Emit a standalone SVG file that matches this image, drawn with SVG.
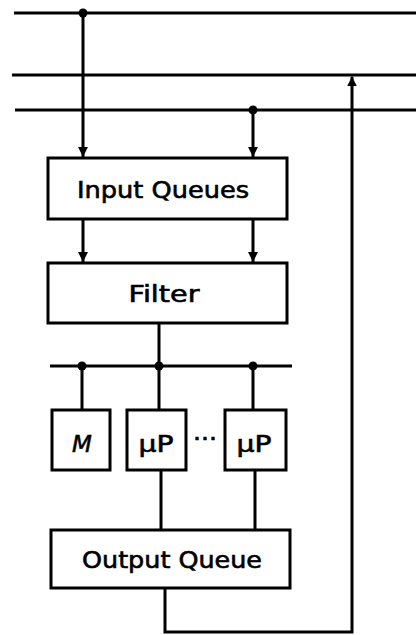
<svg xmlns="http://www.w3.org/2000/svg" width="416" height="635" viewBox="0 0 416 635">
<style>
.ln{stroke:#000;stroke-width:3;fill:none;stroke-linecap:butt}
.bx{stroke:#000;stroke-width:3;fill:#fff}
.t{font-family:"DejaVu Sans","Liberation Sans",sans-serif;font-size:23px;fill:#000;stroke:#000;stroke-width:0.6;text-anchor:middle}
.dot{fill:#000}
</style>
<defs>
<marker id="ah" viewBox="0 0 10 10" refX="10" refY="5" markerWidth="3.3" markerHeight="3.3" markerUnits="strokeWidth" orient="auto">
<path d="M0,0 L10,5 L0,10 z" fill="#000"/>
</marker>
</defs>
<g id="connectors">
<line class="ln" x1="14" y1="13" x2="416" y2="13"/>
<line class="ln" x1="12" y1="75" x2="416" y2="75"/>
<line class="ln" x1="15" y1="110" x2="416" y2="110"/>
<circle class="dot" cx="83" cy="13" r="4.5"/>
<circle class="dot" cx="253" cy="110" r="4.5"/>
<line class="ln" x1="83" y1="13" x2="83" y2="157" marker-end="url(#ah)"/>
<line class="ln" x1="253" y1="110" x2="253" y2="157" marker-end="url(#ah)"/>
<line class="ln" x1="83" y1="219" x2="83" y2="262" marker-end="url(#ah)"/>
<line class="ln" x1="253" y1="219" x2="253" y2="262" marker-end="url(#ah)"/>
<line class="ln" x1="159" y1="323" x2="159" y2="366"/>
<line class="ln" x1="50" y1="366" x2="292" y2="366"/>
<circle class="dot" cx="82" cy="366" r="4.5"/>
<circle class="dot" cx="159" cy="366" r="4.5"/>
<circle class="dot" cx="253" cy="366" r="4.5"/>
<line class="ln" x1="82" y1="366" x2="82" y2="410"/>
<line class="ln" x1="159" y1="366" x2="159" y2="410"/>
<line class="ln" x1="253" y1="366" x2="253" y2="410"/>
<line class="ln" x1="161" y1="470" x2="161" y2="530"/>
<line class="ln" x1="255" y1="470" x2="255" y2="530"/>
<polyline class="ln" points="165,588 165,632 352,632 352,76.5" marker-end="url(#ah)"/>
</g>
<g id="input-queues">
<rect class="bx" x="48" y="158" width="239" height="61"/>
<text class="t" x="163" y="198" textLength="172" lengthAdjust="spacingAndGlyphs">Input Queues</text>
</g>
<g id="filter">
<rect class="bx" x="48" y="263" width="239" height="60"/>
<text class="t" x="164" y="302" textLength="71" lengthAdjust="spacingAndGlyphs">Filter</text>
</g>
<g id="m">
<rect class="bx" x="52" y="410" width="58" height="60"/>
<text class="t" x="82" y="452" font-style="italic">M</text>
</g>
<g id="up1">
<rect class="bx" x="127" y="410" width="59" height="60"/>
<text class="t" x="156" y="452" textLength="35" lengthAdjust="spacingAndGlyphs">μP</text>
</g>
<g id="ellipsis">
<text class="t" x="205" y="447" textLength="24" lengthAdjust="spacingAndGlyphs">···</text>
</g>
<g id="up2">
<rect class="bx" x="225" y="410" width="61" height="60"/>
<text class="t" x="254" y="452" textLength="35" lengthAdjust="spacingAndGlyphs">μP</text>
</g>
<g id="output-queue">
<rect class="bx" x="51" y="530" width="239" height="58"/>
<text class="t" x="172" y="568" textLength="180" lengthAdjust="spacingAndGlyphs">Output Queue</text>
</g>
</svg>
